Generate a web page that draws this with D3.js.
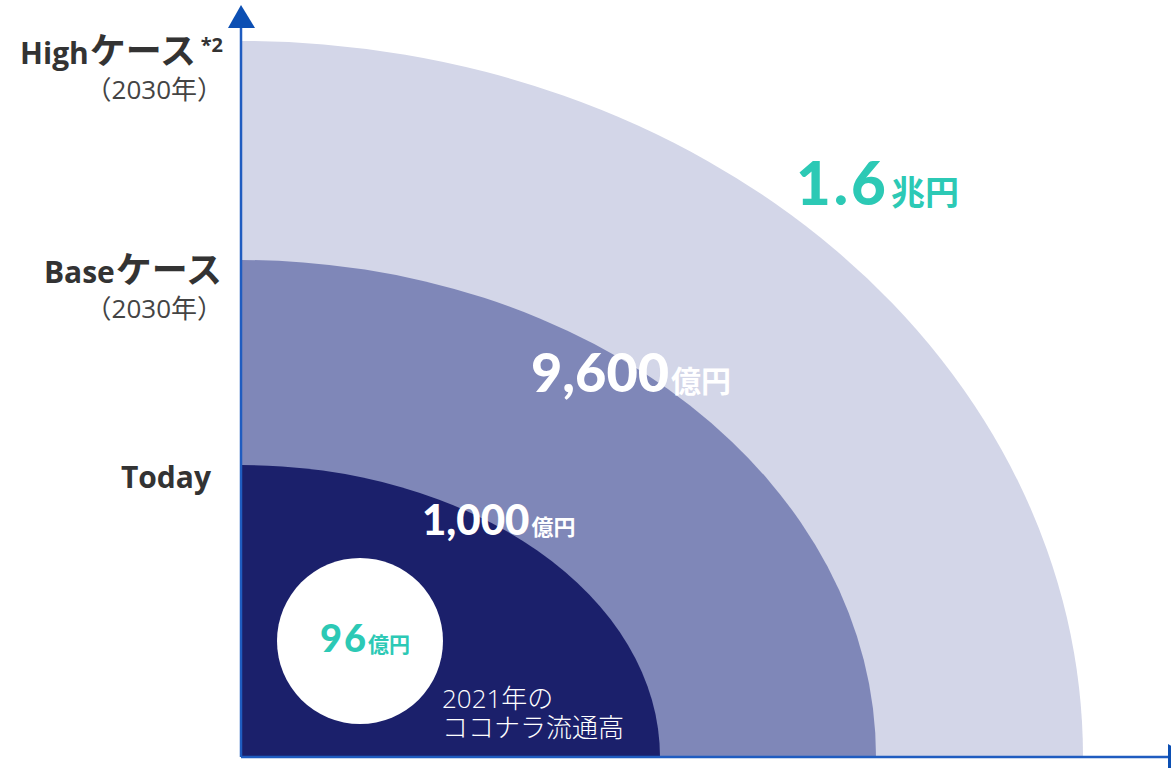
<!DOCTYPE html>
<html lang="ja">
<head>
<meta charset="utf-8">
<script src="https://cdn.jsdelivr.net/npm/d3@7"></script>
<style>
  html, body { margin: 0; padding: 0; background: #fff; }
  svg { display: block; }
  text { font-family: "Open Sans", "Noto Sans CJK JP", sans-serif; }
</style>
</head>
<body>
<svg id="chart" width="1171" height="768"></svg>
<script>
// Market size tiers (outermost drawn first)
const tiers = ["Highケース", "Baseケース", "Today"];
const tierNotes = ["（2030年）", "（2030年）", ""];
const tierSup = ["*2", "", ""];
const valueText = ["1.6", "9,600", "1,000"];
const unitText = ["兆円", "億円", "億円"];
const valuesOku = [16000, 9600, 1000];
const currentValue = 96;
const currentUnit = "億円";
const currentCaption = ["2021年の", "ココナラ流通高"];

const W = 1171, H = 768;
const origin = { x: 241, y: 757 };

const svg = d3.select("#chart");

// Ring extents along each axis
const rx = d3.scaleOrdinal().domain(tiers).range([842, 635, 419]);
const ry = d3.scaleOrdinal().domain(tiers).range([716, 497, 292]);
const fill = d3.scaleOrdinal().domain(tiers).range(["#d3d6e8", "#7f87b8", "#1b206b"]);

svg.append("defs").append("clipPath").attr("id", "quad")
  .append("rect").attr("x", origin.x).attr("y", 0)
  .attr("width", W - origin.x).attr("height", origin.y);

const rings = svg.append("g").attr("clip-path", "url(#quad)");
rings.selectAll("ellipse").data(tiers).join("ellipse")
  .attr("cx", origin.x).attr("cy", origin.y)
  .attr("rx", d => rx(d)).attr("ry", d => ry(d))
  .attr("fill", d => fill(d));

// Current value bubble
const bubble = { cx: 360, cy: 641, r: 83 };
svg.append("circle").attr("cx", bubble.cx).attr("cy", bubble.cy).attr("r", bubble.r).attr("fill", "#fff");

const teal = "#2cc9b5";
const numFont = "Lato, 'Open Sans', sans-serif";
const jpFont = "'Noto Sans CJK JP', sans-serif";

const cur = svg.append("text").attr("x", 320).attr("y", 652).attr("fill", teal);
cur.append("tspan").text(currentValue).attr("font-family", numFont).attr("font-weight", 900)
  .attr("font-size", 38).attr("letter-spacing", 2);
cur.append("tspan").text(currentUnit).attr("font-family", jpFont).attr("font-weight", 700)
  .attr("font-size", 21).attr("dx", 0);

// Two-line caption under the bubble
const cap = svg.append("text").attr("x", 442).attr("y", 708)
  .attr("fill", "#fff").attr("font-family", jpFont).attr("font-weight", 300).attr("font-size", 26);
cap.selectAll("tspan").data(currentCaption).join("tspan")
  .attr("x", 442).attr("dy", (d, i) => i === 0 ? 0 : 29)
  .text(d => d);

// Value labels placed on each ring
const valPos = [
  { x: 796, y: 205, big: 60, small: 34, ls: 3, color: teal },
  { x: 531, y: 392, big: 54, small: 30, ls: 0, color: "#fff" },
  { x: 422, y: 535, big: 42, small: 22, ls: 0, color: "#fff" }
];
tiers.forEach((t, i) => {
  const p = valPos[i];
  const tx = svg.append("text").attr("x", p.x).attr("y", p.y).attr("fill", p.color);
  tx.append("tspan").text(valueText[i]).attr("font-family", numFont).attr("font-weight", 900)
    .attr("font-size", p.big).attr("letter-spacing", p.ls);
  tx.append("tspan").text(unitText[i]).attr("font-family", jpFont).attr("font-weight", 700)
    .attr("font-size", p.small).attr("letter-spacing", 0).attr("dx", 2);
});

// Tier labels on the vertical axis, aligned with each ring's top
const labelX = 222;
tiers.forEach((t, i) => {
  const top = origin.y - ry(t);
  const lab = svg.append("text").attr("x", tierSup[i] ? labelX - 26 : (i === 2 ? 211 : labelX))
    .attr("y", top + 23).attr("text-anchor", "end").attr("fill", "#333").attr("font-weight", 700);
  const m = t.match(/^([A-Za-z]+)(.*)$/);
  lab.append("tspan").text(m[1]).attr("font-family", "'Open Sans', sans-serif").attr("font-size", 30);
  if (m[2]) lab.append("tspan").text(m[2]).attr("font-family", jpFont).attr("font-size", 36).attr("dx", 1);
  if (tierSup[i]) {
    svg.append("text").attr("x", labelX + 1).attr("y", top + 11).attr("text-anchor", "end")
      .attr("fill", "#333").attr("font-size", 20).attr("font-weight", 700)
      .attr("font-family", "'Open Sans', sans-serif").text(tierSup[i]);
  }
  if (tierNotes[i]) {
    svg.append("text").attr("x", 223).attr("y", top + 58).attr("text-anchor", "end")
      .attr("fill", "#444").attr("font-size", 26).attr("font-family", jpFont).attr("font-weight", 400)
      .text(tierNotes[i]);
  }
});

// Axes with arrowheads
const axisColor = "#1f5cc0";
svg.append("line").attr("x1", origin.x).attr("y1", origin.y).attr("x2", origin.x).attr("y2", 24)
  .attr("stroke", axisColor).attr("stroke-width", 2.5);
svg.append("path").attr("d", d3.line()([[origin.x - 13, 28], [origin.x, 5], [origin.x + 14, 28]]) + "Z")
  .attr("fill", "#0c4fb3");
svg.append("line").attr("x1", origin.x).attr("y1", origin.y).attr("x2", W).attr("y2", origin.y)
  .attr("stroke", axisColor).attr("stroke-width", 2.5);
svg.append("path").attr("d", d3.line()([[1168, origin.y - 13], [1191, origin.y], [1168, origin.y + 13]]) + "Z")
  .attr("fill", "#0c4fb3");
</script>
</body>
</html>
